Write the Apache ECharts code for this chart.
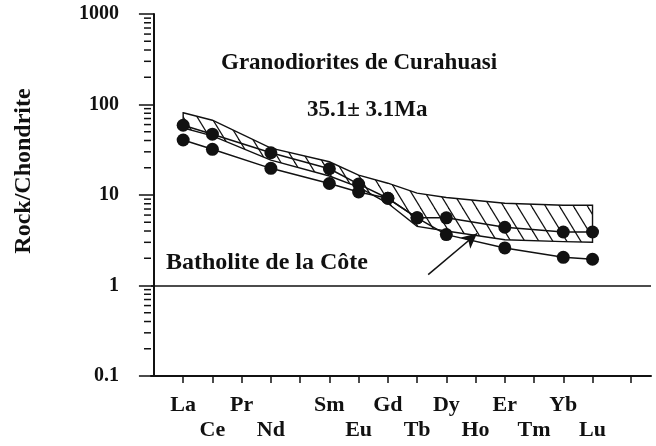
<!DOCTYPE html>
<html>
<head>
<meta charset="utf-8">
<script src="https://cdn.jsdelivr.net/npm/echarts@6/dist/echarts.min.js"></script>
<style>
  html, body { margin: 0; padding: 0; background: #ffffff; }
  #chart { width: 656px; height: 446px; }
</style>
</head>
<body>
<div id="chart"></div>
<script>
// Rare earth elements along the x axis (position = index + 1)
const elements = ['La', 'Ce', 'Pr', 'Nd', 'Pm', 'Sm', 'Eu', 'Gd', 'Tb', 'Dy', 'Ho', 'Er', 'Tm', 'Yb', 'Lu'];
const upperRowLabels = ['La', 'Pr', 'Sm', 'Gd', 'Dy', 'Er', 'Yb'];
const lowerRowLabels = ['Ce', 'Nd', 'Eu', 'Tb', 'Ho', 'Tm', 'Lu'];
const xTickPositions = [1, 2, 3, 4, 5, 6, 7, 8, 9, 10, 11, 12, 13, 14, 15, 16.3];
const yMinorTicks = [0.2, 0.3, 0.4, 0.5, 0.6, 0.7, 0.8, 0.9,
                     2, 3, 4, 5, 6, 7, 8, 9,
                     20, 30, 40, 50, 60, 70, 80, 90,
                     200, 300, 400, 500, 600, 700, 800, 900];

// Chondrite-normalised patterns of the Curahuasi granodiorites
const sampleElements = ['La', 'Ce', 'Nd', 'Sm', 'Eu', 'Gd', 'Tb', 'Dy', 'Er', 'Yb', 'Lu'];
const sampleA = [59, 47, 29.3, 19.5, 13.2, 9.2, 5.6, 5.6, 4.4, 3.9, 3.9];
const sampleB = [40.5, 32, 19.7, 13.4, 10.8, 9.2, 5.6, 3.65, 2.6, 2.05, 1.95];

// Field of the Coastal Batholith (upper and lower limits)
const bandElements = ['La', 'Ce', 'Nd', 'Sm', 'Eu', 'Gd', 'Tb', 'Dy', 'Er', 'Yb', 'Lu'];
const bandTop = [81, 67, 33, 23.3, 16.6, 13.5, 10.5, 9.4, 8.1, 7.7, 7.7];
const bandBottom = [55, 45, 24.3, 16.2, 12.2, 8.1, 4.5, 4.0, 3.2, 3.05, 3.0];

// Pointer towards the batholith field
const arrowFrom = [9.38, 1.32];
const arrowTo = [11.05, 3.75];

const FONT = '"Liberation Serif", "DejaVu Serif", serif';
const INK = '#111111';

const xOf = name => elements.indexOf(name) + 1;

// Diagonal hatch tile used to fill the batholith field
function makeHatch() {
  const w = 14, h = 23;
  const c = document.createElement('canvas');
  c.width = w; c.height = h;
  const ctx = c.getContext('2d');
  ctx.strokeStyle = INK;
  ctx.lineWidth = 1.2;
  for (let k = -1; k <= 1; k++) {
    ctx.beginPath();
    ctx.moveTo(-w, -h + k * h);
    ctx.lineTo(2 * w, 2 * h + k * h);
    ctx.stroke();
  }
  return c;
}
const hatch = makeHatch();

const chart = echarts.init(document.getElementById('chart'), null, { renderer: 'canvas' });

const labelStyle = {
  fontFamily: FONT, fontWeight: 'bold', fontSize: 22, color: INK
};

const option = {
  animation: false,
  backgroundColor: '#ffffff',
  grid: { left: 151, right: 5, top: 14, bottom: 70, containLabel: false },
  xAxis: [
    {
      type: 'value', min: -0.1, max: 17, position: 'bottom',
      axisLine: { show: true, onZero: false, lineStyle: { color: INK, width: 2 } },
      axisTick: { show: true, customValues: xTickPositions, length: 7, lineStyle: { color: INK, width: 1.5 } },
      axisLabel: Object.assign({
        show: true, margin: 18,
        customValues: upperRowLabels.map(xOf),
        formatter: v => elements[Math.round(v) - 1]
      }, labelStyle),
      splitLine: { show: false }
    },
    {
      type: 'value', min: -0.1, max: 17, position: 'bottom',
      axisLine: { show: false, onZero: false },
      axisTick: { show: false },
      axisLabel: Object.assign({
        show: true, margin: 43,
        customValues: lowerRowLabels.map(xOf),
        formatter: v => elements[Math.round(v) - 1]
      }, labelStyle),
      splitLine: { show: false }
    }
  ],
  yAxis: {
    type: 'log', logBase: 10, min: 0.1, max: 1000,
    axisLine: { show: true, lineStyle: { color: INK, width: 2 } },
    axisTick: { show: true, length: 15, lineStyle: { color: INK, width: 1.5 } },
    axisLabel: {
      margin: 32, fontFamily: FONT, fontWeight: 'bold', fontSize: 20, color: INK,
      formatter: v => String(v)
    },
    splitLine: { show: false }
  },
  graphic: [
    {
      type: 'text', x: 24, y: 171, rotation: Math.PI / 2,
      style: { text: 'Rock/Chondrite', font: 'bold 24px ' + FONT, fill: INK, align: 'center', verticalAlign: 'middle' }
    },
    {
      type: 'text', x: 221, y: 63,
      style: { text: 'Granodiorites de Curahuasi', font: 'bold 23px ' + FONT, fill: INK, align: 'left', verticalAlign: 'middle' }
    },
    {
      type: 'text', x: 307, y: 110,
      style: { text: '35.1\u00b1 3.1Ma', font: 'bold 23px ' + FONT, fill: INK, align: 'left', verticalAlign: 'middle' }
    },
    {
      type: 'text', x: 166, y: 263,
      style: { text: 'Batholite de la C\u00f4te', font: 'bold 24px ' + FONT, fill: INK, align: 'left', verticalAlign: 'middle' }
    }
  ],
  series: [
    {
      // hatched batholith field
      type: 'custom', name: 'Batholite de la Côte',
      coordinateSystem: 'cartesian2d', xAxisIndex: 0, yAxisIndex: 0,
      silent: true, z: 1,
      data: [[1, 10]],
      renderItem: function (params, api) {
        const pts = [];
        bandElements.forEach((e, i) => pts.push(api.coord([xOf(e), bandTop[i]])));
        for (let i = bandElements.length - 1; i >= 0; i--) {
          pts.push(api.coord([xOf(bandElements[i]), bandBottom[i]]));
        }
        return {
          type: 'polygon',
          shape: { points: pts },
          style: { fill: { image: hatch, repeat: 'repeat' }, stroke: INK, lineWidth: 1.4 }
        };
      }
    },
    {
      // minor ticks of the logarithmic axis
      type: 'custom', coordinateSystem: 'cartesian2d', xAxisIndex: 0, yAxisIndex: 0,
      silent: true, clip: false, z: 3,
      data: yMinorTicks.map(v => [-0.1, v]),
      renderItem: function (params, api) {
        const p = api.coord([api.value(0), api.value(1)]);
        return {
          type: 'line',
          shape: { x1: p[0] - 7, y1: p[1], x2: p[0], y2: p[1] },
          style: { stroke: INK, lineWidth: 1.5 }
        };
      }
    },
    {
      type: 'line', name: 'A', xAxisIndex: 0, z: 5,
      data: sampleElements.map((e, i) => [xOf(e), sampleA[i]]),
      symbol: 'circle', symbolSize: 13,
      itemStyle: { color: INK },
      lineStyle: { color: INK, width: 1.5 },
      markLine: {
        silent: true, symbol: ['none', 'none'], animation: false,
        label: { show: false },
        lineStyle: { color: INK, width: 1.5, type: 'solid' },
        data: [
          { yAxis: 1 },
          [
            { coord: arrowFrom, symbol: 'none' },
            { coord: arrowTo, symbol: 'arrow', symbolSize: [11, 15] }
          ]
        ]
      }
    },
    {
      type: 'line', name: 'B', xAxisIndex: 0, z: 5,
      data: sampleElements.map((e, i) => [xOf(e), sampleB[i]]),
      symbol: 'circle', symbolSize: 13,
      itemStyle: { color: INK },
      lineStyle: { color: INK, width: 1.5 }
    }
  ]
};

chart.setOption(option);
</script>
</body>
</html>
